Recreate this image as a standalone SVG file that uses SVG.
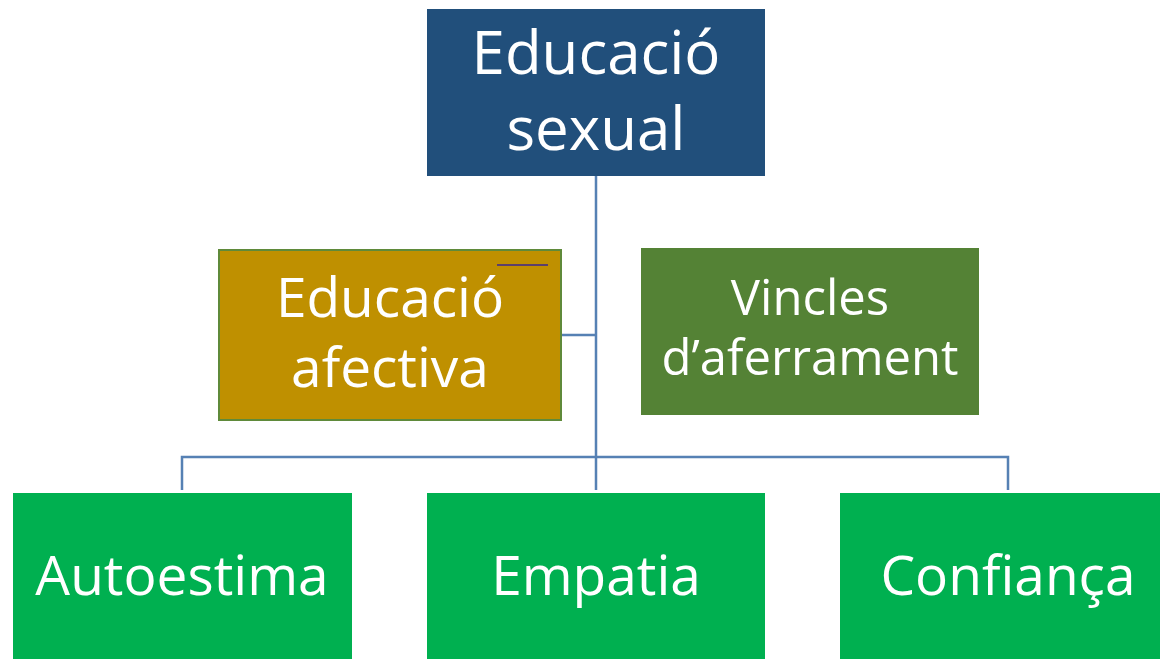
<svg xmlns="http://www.w3.org/2000/svg" width="1160" height="659" viewBox="0 0 1160 659">
<style>
text{font-family:"Open Sans","Liberation Sans",sans-serif;fill:#fff;text-anchor:middle}
.top{font-size:60px}
.aff{font-size:55px}
.vin{font-size:49px}
.bot{font-size:55px}
.con{fill:none;stroke:#5681B4;stroke-width:2.5}
</style>
<rect width="1160" height="659" fill="#fff"/>
<g id="connectors">
<path class="con" d="M596 176V490M561 335H596M182 490V457H1008V490"/>
</g>
<g id="educacio-sexual">
<rect x="427" y="9" width="338" height="167" fill="#214F7B"/>
<text class="top" x="596" y="74">Educació</text>
<text class="top" x="596" y="150">sexual</text>
</g>
<g id="educacio-afectiva">
<rect x="219" y="250" width="342" height="170" fill="#BF9000" stroke="#5F8A3A" stroke-width="2"/>
<line x1="497" y1="265" x2="548" y2="265" stroke="#5B3F6B" stroke-width="2"/>
<text class="aff" x="390" y="317">Educació</text>
<text class="aff" x="390" y="387">afectiva</text>
</g>
<g id="vincles">
<rect x="641" y="248" width="338" height="167" fill="#548235"/>
<text class="vin" x="810" y="315">Vincles</text>
<text class="vin" x="810" y="375">d’aferrament</text>
</g>
<g id="autoestima">
<rect x="13" y="493" width="339" height="166" fill="#00B050"/>
<text class="bot" x="182" y="595">Autoestima</text>
</g>
<g id="empatia">
<rect x="427" y="493" width="338" height="166" fill="#00B050"/>
<text class="bot" x="596" y="595">Empatia</text>
</g>
<g id="confianca">
<rect x="840" y="493" width="320" height="166" fill="#00B050"/>
<text class="bot" x="1008" y="595">Confiança</text>
</g>
</svg>
